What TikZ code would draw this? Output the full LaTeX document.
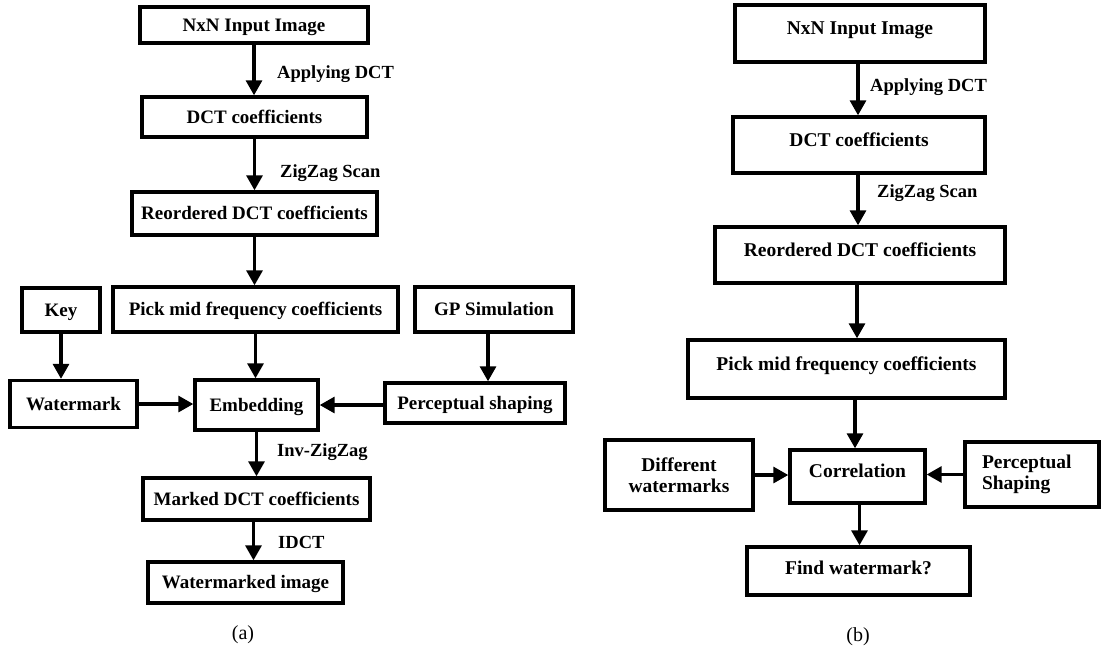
\documentclass[tikz,border=0pt]{standalone}
\usepackage{fontspec}
\setmainfont{Liberation Serif}
\usetikzlibrary{arrows.meta}

\tikzset{
  boxa/.style={draw, line width=3.4pt, rectangle, inner sep=0pt,
    font=\fontsize{19}{21}\selectfont\bfseries, text height=12.5pt, text depth=0pt},
  boxb/.style={draw, line width=3.4pt, rectangle, inner sep=0pt,
    font=\fontsize{19.5}{22}\selectfont\bfseries, text height=12.5pt, text depth=10pt},
  boxm/.style={draw, line width=3.4pt, rectangle, inner sep=0pt,
    font=\fontsize{19.5}{21.5}\selectfont\bfseries},
  lbl/.style={font=\fontsize{18.5}{20}\selectfont\bfseries, anchor=west, inner sep=0pt},
  flow/.style={->, line width=3.2pt},
  capt/.style={font=\fontsize{20}{22}\selectfont}
}

\begin{document}
\begin{tikzpicture}[x=1pt, y=-1pt, >={Triangle[length=15pt,width=16pt]}]
    \useasboundingbox (0,0) rectangle (1101,648);

    % (a) Embedding
    \node[boxa, minimum width=228, minimum height=36] (ina) at (254,25) {NxN Input Image};
    \node[boxa, minimum width=225, minimum height=40] (dcta) at (254.5,117) {DCT coefficients};
    \node[boxa, minimum width=245, minimum height=43] (reorda) at (254.5,213.5) {Reordered DCT coefficients};
    \node[boxa, minimum width=285, minimum height=45] (picka) at (255.5,309.5) {Pick mid frequency coefficients};
    \node[boxa, minimum width=78, minimum height=44] (key) at (61,310) {Key};
    \node[boxa, minimum width=158, minimum height=45] (gp) at (494,309.5) {GP Simulation};
    \node[boxa, minimum width=127, minimum height=47] (wm) at (73.5,404) {Watermark};
    \node[boxa, minimum width=123, minimum height=50] (emb) at (256.5,405) {Embedding};
    \node[boxa, minimum width=180, minimum height=40] (perca) at (475,403) {Perceptual shaping};
    \node[boxa, minimum width=227, minimum height=42] (markeda) at (256.5,499) {Marked DCT coefficients};
    \node[boxa, minimum width=195, minimum height=41] (wmimg) at (245.5,582.5) {Watermarked image};

    \node[lbl] (appa) at (277,74) {Applying DCT};
    \node[lbl] (zza) at (280,173) {ZigZag Scan};
    \node[lbl] (invzz) at (277,452) {Inv-ZigZag};
    \node[lbl] (idct) at (278,542) {IDCT};

    \draw[flow] (ina.south) -- (ina.south |- dcta.north);
    \draw[flow] (dcta.south) -- (dcta.south |- reorda.north);
    \draw[flow] (reorda.south) -- (reorda.south |- picka.north);
    \draw[flow] (picka.south) -- (picka.south |- emb.north);
    \draw[flow] (key.south) -- (key.south |- wm.north);
    \draw[flow] ([xshift=-6]gp.south) -- ([xshift=-6]gp.south |- perca.north);
    \draw[flow] (wm.east) -- (emb.west |- wm.east);
    \draw[flow] (perca.west |- emb.east) -- (emb.east);
    \draw[flow] (emb.south) -- (emb.south |- markeda.north);
    \draw[flow] ([xshift=-3]markeda.south) -- ([xshift=-3]markeda.south |- wmimg.north);

    \node[capt] (capa) at (243,635) {(a)};

    % (b) Detection
    \node[boxb, minimum width=250, minimum height=57] (inb) at (860,33.5) {NxN Input Image};
    \node[boxb, minimum width=252, minimum height=56] (dctb) at (859,145) {DCT coefficients};
    \node[boxb, minimum width=290, minimum height=56] (reordb) at (860,255) {Reordered DCT coefficients};
    \node[boxb, minimum width=317, minimum height=58] (pickb) at (846.5,369) {Pick mid frequency coefficients};
    \node[boxb, minimum width=135, minimum height=53] (corr) at (857.5,476.5) {Correlation};
    \node[boxm, minimum width=148, minimum height=70, align=center] (diffwm) at (679,475) {Different\\watermarks};
    \node[boxm, minimum height=65, align=left, text width=100pt, inner xsep=17pt] (percb) at (1032,474.5) {Perceptual\\Shaping};
    \node[boxb, minimum width=223, minimum height=48, text depth=6pt] (findwm) at (858.5,571) {Find watermark?};

    \node[lbl] (appb) at (870,87) {Applying DCT};
    \node[lbl] (zzb) at (877,193) {ZigZag Scan};

    \draw[flow] ([xshift=-2]inb.south) -- ([xshift=-2]inb.south |- dctb.north);
    \draw[flow] ([xshift=-1]dctb.south) -- ([xshift=-1]dctb.south |- reordb.north);
    \draw[flow] ([xshift=-3]reordb.south) -- ([xshift=-3]reordb.south |- pickb.north);
    \draw[flow] ([xshift=8.5]pickb.south) -- ([xshift=8.5]pickb.south |- corr.north);
    \draw[flow] (diffwm.east) -- (corr.west |- diffwm.east);
    \draw[flow] (percb.west) -- (corr.east |- percb.west);
    \draw[flow] ([xshift=2]corr.south) -- ([xshift=2]corr.south |- findwm.north);

    \node[capt] (capb) at (858,637) {(b)};
\end{tikzpicture}
\end{document}
